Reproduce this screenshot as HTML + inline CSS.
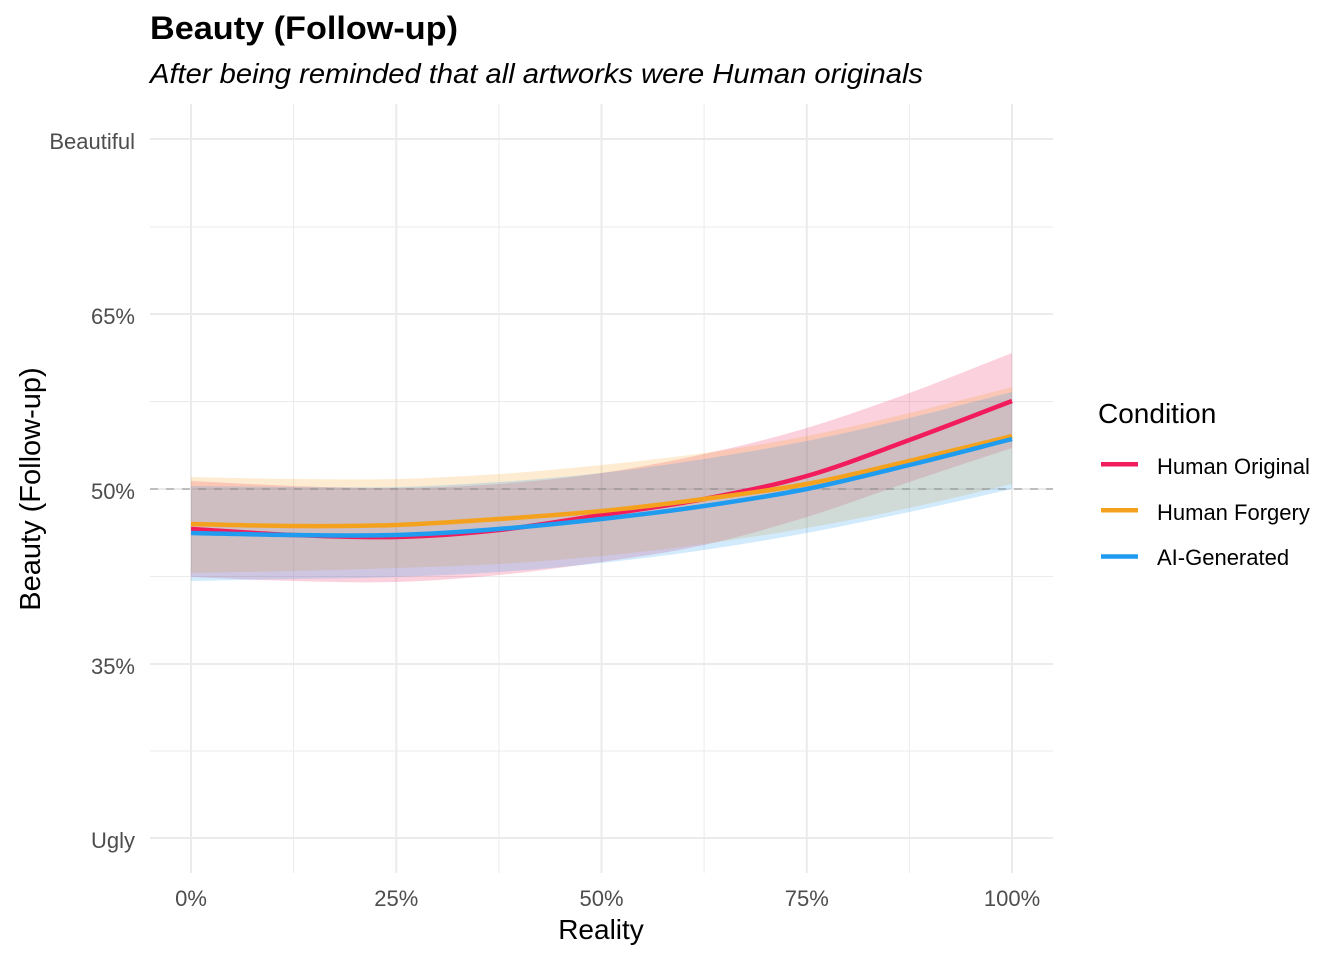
<!DOCTYPE html>
<html>
<head>
<meta charset="utf-8">
<style>
  html,body{margin:0;padding:0;background:#fff;}
  svg{display:block;}
  text{font-family:"Liberation Sans","DejaVu Sans",sans-serif;}
</style>
</head>
<body>
<svg width="1344" height="960" viewBox="0 0 1344 960" xmlns="http://www.w3.org/2000/svg">
  <rect x="0" y="0" width="1344" height="960" fill="#ffffff"/>

  <!-- minor grid -->
  <g stroke="#EBEBEB" stroke-width="1" fill="none">
    <line x1="150" y1="227" x2="1053" y2="227"/>
    <line x1="150" y1="401.5" x2="1053" y2="401.5"/>
    <line x1="150" y1="576.5" x2="1053" y2="576.5"/>
    <line x1="150" y1="751" x2="1053" y2="751"/>
    <line x1="293.6" y1="104" x2="293.6" y2="873"/>
    <line x1="498.9" y1="104" x2="498.9" y2="873"/>
    <line x1="704.1" y1="104" x2="704.1" y2="873"/>
    <line x1="909.4" y1="104" x2="909.4" y2="873"/>
  </g>
  <!-- major grid -->
  <g stroke="#EBEBEB" stroke-width="2" fill="none">
    <line x1="150" y1="139" x2="1053" y2="139"/>
    <line x1="150" y1="314" x2="1053" y2="314"/>
    <line x1="150" y1="489" x2="1053" y2="489"/>
    <line x1="150" y1="664" x2="1053" y2="664"/>
    <line x1="150" y1="838" x2="1053" y2="838"/>
    <line x1="191" y1="104" x2="191" y2="873"/>
    <line x1="396.3" y1="104" x2="396.3" y2="873"/>
    <line x1="601.5" y1="104" x2="601.5" y2="873"/>
    <line x1="806.8" y1="104" x2="806.8" y2="873"/>
    <line x1="1012" y1="104" x2="1012" y2="873"/>
  </g>

  <!-- ribbons -->
  <path fill="#F21B5B" fill-opacity="0.2" d="M191,481
    C225.2,482.7 259.4,484.8 293.6,486
    C327.8,487.2 362.1,488.3 396.3,488
    C430.5,487.7 464.7,486.5 498.9,484
    C533.1,481.5 567.3,478 601.5,473
    C635.7,468 669.9,461.5 704.1,454
    C738.3,446.5 772.6,438.2 806.8,428
    C841,417.8 875.2,405.5 909.4,393
    C943.6,380.5 977.8,366.3 1012,353
    L1012,448
    C977.8,459.3 943.6,470.5 909.4,482
    C875.2,493.5 841,506.5 806.8,517
    C772.6,527.5 738.3,537.5 704.1,545
    C669.9,552.5 635.7,557 601.5,562
    C567.3,567 533.1,571.7 498.9,575
    C464.7,578.3 430.5,581 396.3,582
    C362.1,583 327.8,581.8 293.6,581
    C259.4,580.2 225.2,578.3 191,577 Z"/>
  <path fill="#F4A21E" fill-opacity="0.2" d="M191,477
    C225.2,477.7 259.4,478.7 293.6,479
    C327.8,479.3 362.1,479.8 396.3,479
    C430.5,478.2 464.7,476.3 498.9,474
    C533.1,471.7 567.3,468.5 601.5,465
    C635.7,461.5 669.9,457.8 704.1,453
    C738.3,448.2 772.6,442.7 806.8,436
    C841,429.3 875.2,421.2 909.4,413
    C943.6,404.8 977.8,395.7 1012,387
    L1012,484
    C977.8,492 943.6,500.7 909.4,508
    C875.2,515.3 841,522 806.8,528
    C772.6,534 738.3,539.3 704.1,544
    C669.9,548.7 635.7,552.7 601.5,556
    C567.3,559.3 533.1,562 498.9,564
    C464.7,566 430.5,566.8 396.3,568
    C362.1,569.2 327.8,570.2 293.6,571
    C259.4,571.8 225.2,572.3 191,573 Z"/>
  <path fill="#1F9BF0" fill-opacity="0.2" d="M191,486
    C225.2,486.3 259.4,486.8 293.6,487
    C327.8,487.2 362.1,487.8 396.3,487
    C430.5,486.2 464.7,484.3 498.9,482
    C533.1,479.7 567.3,476.8 601.5,473
    C635.7,469.2 669.9,464.3 704.1,459
    C738.3,453.7 772.6,447.8 806.8,441
    C841,434.2 875.2,426.2 909.4,418
    C943.6,409.8 977.8,400.7 1012,392
    L1012,489
    C977.8,496.7 943.6,504.7 909.4,512
    C875.2,519.3 841,526.7 806.8,533
    C772.6,539.3 738.3,545 704.1,550
    C669.9,555 635.7,559.3 601.5,563
    C567.3,566.7 533.1,569.7 498.9,572
    C464.7,574.3 430.5,575.8 396.3,577
    C362.1,578.2 327.8,578.3 293.6,579
    C259.4,579.7 225.2,580.3 191,581 Z"/>

  <!-- reference dashed line -->
  <line x1="150" y1="489" x2="1053" y2="489" stroke="#808080" stroke-opacity="0.55" stroke-width="1.6" stroke-dasharray="8 8"/>

  <!-- lines -->
  <g fill="none" stroke-width="4.5" stroke-linecap="butt" stroke-linejoin="round">
    <path stroke="#F21B5B" d="M191,529
      C225.2,531 259.4,533.7 293.6,535
      C327.8,536.3 362.1,537.8 396.3,537
      C430.5,536.2 464.7,533.7 498.9,530
      C533.1,526.3 567.3,520.2 601.5,515
      C635.7,509.8 669.9,505.5 704.1,499
      C738.3,492.5 772.6,485.8 806.8,476
      C841,466.2 875.2,452.5 909.4,440
      C943.6,427.5 977.8,414 1012,401"/>
    <path stroke="#F4A21E" d="M191,524
      C225.2,524.7 259.4,525.8 293.6,526
      C327.8,526.2 362.1,526.2 396.3,525
      C430.5,523.8 464.7,521.3 498.9,519
      C533.1,516.7 567.3,514.3 601.5,511
      C635.7,507.7 669.9,503.5 704.1,499
      C738.3,494.5 772.6,490.3 806.8,484
      C841,477.7 875.2,469 909.4,461
      C943.6,453 977.8,444.3 1012,436"/>
    <path stroke="#1F9BF0" d="M191,533
      C225.2,533.7 259.4,534.7 293.6,535
      C327.8,535.3 362.1,536 396.3,535
      C430.5,534 464.7,531.7 498.9,529
      C533.1,526.3 567.3,522.8 601.5,519
      C635.7,515.2 669.9,511 704.1,506
      C738.3,501 772.6,495.8 806.8,489
      C841,482.2 875.2,473.3 909.4,465
      C943.6,456.7 977.8,447.7 1012,439"/>
  </g>

  <!-- titles -->
  <text x="150" y="39" font-size="32" font-weight="bold" fill="#000" textLength="308" lengthAdjust="spacingAndGlyphs">Beauty (Follow-up)</text>
  <text x="150" y="83" font-size="28" font-style="italic" fill="#000" textLength="773" lengthAdjust="spacingAndGlyphs">After being reminded that all artworks were Human originals</text>

  <!-- y tick labels -->
  <g font-size="22" fill="#4D4D4D" text-anchor="end">
    <text x="135" y="149">Beautiful</text>
    <text x="135" y="324">65%</text>
    <text x="135" y="499">50%</text>
    <text x="135" y="674">35%</text>
    <text x="135" y="848">Ugly</text>
  </g>
  <!-- x tick labels -->
  <g font-size="22" fill="#4D4D4D" text-anchor="middle">
    <text x="191" y="906">0%</text>
    <text x="396.3" y="906">25%</text>
    <text x="601.5" y="906">50%</text>
    <text x="806.8" y="906">75%</text>
    <text x="1012" y="906">100%</text>
  </g>

  <!-- axis titles -->
  <text x="601" y="939" font-size="28" fill="#000" text-anchor="middle">Reality</text>
  <text transform="translate(40,489) rotate(-90)" x="0" y="0" font-size="29" fill="#000" text-anchor="middle">Beauty (Follow-up)</text>

  <!-- legend -->
  <text x="1098" y="423" font-size="28" fill="#000">Condition</text>
  <g stroke-width="4.5">
    <line x1="1101" y1="464.3" x2="1138" y2="464.3" stroke="#F21B5B"/>
    <line x1="1101" y1="510.2" x2="1138" y2="510.2" stroke="#F4A21E"/>
    <line x1="1101" y1="556.5" x2="1138" y2="556.5" stroke="#1F9BF0"/>
  </g>
  <g font-size="22" fill="#000">
    <text x="1157" y="474">Human Original</text>
    <text x="1157" y="520">Human Forgery</text>
    <text x="1157" y="565">AI-Generated</text>
  </g>
</svg>
</body>
</html>
